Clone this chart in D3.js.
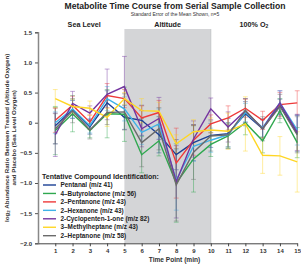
<!DOCTYPE html>
<html lang="en">
<head>
    <meta charset="UTF-8">
    <title>Metabolite Time Course</title>
    <script src="https://d3js.org/d3.v7.min.js"></script>
    <style>
        body { margin: 0; background: #fff; }
        svg { display: block; font-family: "Liberation Sans", Arial, sans-serif; }
    </style>
</head>
<body>
    <div id="chart"></div>
    <script>
        const width = 301, height = 264;

        // time points (min)
        const timePoints = [1, 2, 3, 4, 5, 6, 7, 8, 9, 10, 11, 12, 13, 14, 15];
        const yTicks = [1.5, 1.0, 0.5, 0, -0.5, -1.0, -1.5, -2.0];

        const compoundNames = [
            "Pentanal (m/z 41)",
            "4\u2013Butyrolactone (m/z 56)",
            "2\u2013Pentanone (m/z 43)",
            "2\u2013Hexanone (m/z 43)",
            "2-Cyclopenten-1-one (m/z 82)",
            "3\u2013Methylheptane (m/z 43)",
            "2\u2013Heptanone (m/z 58)"
        ];
        const compoundColors = ["#1b3f94", "#2fa84f", "#ee3a3a", "#3fb2e8", "#7434a0", "#ffd624", "#6b6b6b"];

        // mean log2 ratios
        const pentanal       = [-0.05, 0.22, -0.07, 0.33, 0.09, 0.04, -0.20, -0.53, -0.33, -0.21, -0.18, 0.15, -0.10, 0.29, -0.18];
        const butyrolactone  = [-0.13, 0.15, -0.13, 0.15, 0.14, -0.53, -0.30, -1.00, -0.60, -0.36, -0.22, 0.00, -0.30, 0.20, -0.33];
        const pentanone      = [0.04, 0.29, 0.01, 0.45, 0.40, 0.08, 0.17, -0.67, -0.29, -0.02, 0.08, 0.24, 0.04, 0.30, 0.33];
        const hexanone       = [0.00, 0.23, -0.05, 0.40, 0.23, -0.16, -0.02, -0.95, -0.39, -0.29, -0.20, 0.17, -0.08, 0.33, -0.12];
        const cyclopentenone = [-0.20, 0.32, 0.16, 0.47, 0.60, -0.10, 0.07, -0.98, -0.27, 0.23, -0.07, 0.20, -0.10, 0.33, -0.16];
        const methylheptane  = [0.40, 0.27, 0.24, 0.09, 0.40, 0.20, 0.19, -0.35, -0.15, -0.12, -0.14, -0.02, -0.54, -0.55, -0.65];
        const heptanone      = [-0.10, 0.20, -0.12, 0.17, 0.18, -0.33, -0.10, -1.03, -0.49, -0.22, -0.20, 0.20, -0.10, 0.27, -0.20];

        // standard error of the mean
        const pentanalSem       = [0.30, 0.15, 0.12, 0.20, 0.20, 0.25, 0.30, 0.25, 0.30, 0.20, 0.25, 0.20, 0.15, 0.10, 0.30];
        const butyrolactoneSem  = [0.40, 0.30, 0.12, 0.40, 0.45, 0.30, 0.25, 0.65, 0.55, 0.20, 0.20, 0.20, 0.20, 0.20, 0.25];
        const pentanoneSem      = [0.20, 0.15, 0.12, 0.20, 0.15, 0.20, 0.20, 0.58, 0.25, 0.15, 0.20, 0.15, 0.15, 0.20, 0.20];
        const hexanoneSem       = [0.18, 0.15, 0.12, 0.20, 0.20, 0.20, 0.25, 0.50, 0.25, 0.20, 0.20, 0.15, 0.15, 0.20, 0.25];
        const cyclopentenoneSem = [0.36, 0.20, 0.12, 0.42, 0.50, 0.30, 0.35, 0.60, 0.30, 0.18, 0.25, 0.20, 0.15, 0.20, 0.30];
        const methylheptaneSem  = [0.15, 0.12, 0.12, 0.15, 0.10, 0.20, 0.15, 0.15, 0.20, 0.20, 0.30, 0.45, 0.30, 0.32, 0.50];
        const heptanoneSem      = [0.25, 0.20, 0.15, 0.20, 0.30, 0.40, 0.35, 0.60, 0.45, 0.25, 0.20, 0.20, 0.20, 0.20, 0.30];

        const phases = [
            { name: "Sea Level", from: 0, to: 5 },
            { name: "Altitude", from: 5, to: 10 },
            { name: "100% O", sub: "2", from: 10, to: 15 }
        ];

        const allMeans = [pentanal, butyrolactone, pentanone, hexanone, cyclopentenone, methylheptane, heptanone];
        const allSems = [pentanalSem, butyrolactoneSem, pentanoneSem, hexanoneSem, cyclopentenoneSem, methylheptaneSem, heptanoneSem];
        const series = compoundNames.map((name, i) => ({
            name, color: compoundColors[i],
            points: timePoints.map((t, j) => ({ t, v: allMeans[i][j], e: allSems[i][j] }))
        }));

        const margin = { left: 38, top: 29 };
        const x = d3.scaleLinear().domain([0, 15]).range([margin.left, 297.2]);
        const y = d3.scaleLinear().domain([-2, 1.5]).range([243.3, 32.3]);

        const svg = d3.select("#chart").append("svg")
            .attr("width", width).attr("height", height);

        // titles
        svg.append("text").attr("x", 175).attr("y", 8.5)
            .attr("text-anchor", "middle").attr("font-size", 8.6).attr("font-weight", "bold")
            .attr("fill", "#222").text("Metabolite Time Course from Serial Sample Collection");
        svg.append("text").attr("x", 175).attr("y", 15.5)
            .attr("text-anchor", "middle").attr("font-size", 5).attr("fill", "#333")
            .text("Standard Error of the Mean Shown, n=5");

        // altitude shading
        svg.append("rect")
            .attr("x", x(5)).attr("y", margin.top)
            .attr("width", x(10) - x(5)).attr("height", y(-2) - margin.top)
            .attr("fill", "#d4d5d7");
        svg.append("line")
            .attr("x1", x(10)).attr("x2", x(10)).attr("y1", margin.top).attr("y2", y(-2))
            .attr("stroke", "#bfc0c2").attr("stroke-width", 0.8);

        // phase labels
        phases.forEach(p => {
            const t = svg.append("text")
                .attr("x", x((p.from + p.to) / 2) + (p.from === 0 ? 3 : 0)).attr("y", 26.5)
                .attr("text-anchor", "middle").attr("font-size", 7.2).attr("font-weight", "bold")
                .attr("fill", "#222").text(p.name);
            if (p.sub) t.append("tspan").attr("font-size", 5).attr("dy", 1.5).text(p.sub);
        });

        // y axis
        const yAxis = svg.append("g").attr("transform", `translate(${margin.left},0)`)
            .call(d3.axisLeft(y).tickValues(yTicks).tickSize(3).tickPadding(3)
                .tickFormat(d => d === 0 ? "0" : d3.format(".1f")(d).replace("-", "\u2212")));
        yAxis.select(".domain").attr("stroke", "#888").attr("stroke-width", 1.5);
        yAxis.selectAll(".tick line").attr("stroke", "#555");
        yAxis.selectAll(".tick text").attr("font-size", 6).attr("font-weight", "bold")
            .attr("fill", "#333").attr("font-family", "Liberation Sans, Arial, sans-serif");

        // x axis
        const xAxis = svg.append("g").attr("transform", `translate(0,${y(-2)})`)
            .call(d3.axisBottom(x).tickValues(timePoints).tickSize(3).tickPadding(2).tickSizeOuter(0));
        xAxis.select(".domain").attr("stroke", "#444").attr("stroke-width", 1);
        xAxis.selectAll(".tick line").attr("stroke", "#444");
        xAxis.selectAll(".tick text").attr("font-size", 6).attr("font-weight", "bold")
            .attr("fill", "#333").attr("font-family", "Liberation Sans, Arial, sans-serif");

        svg.append("text").attr("x", 174.5).attr("y", 261.5)
            .attr("text-anchor", "middle").attr("font-size", 6.6).attr("font-weight", "bold")
            .attr("fill", "#333").text("Time Point (min)");

        // y axis title (two lines)
        const yMid = (y(1.5) + y(-2)) / 2;
        const yTitle = svg.append("text")
            .attr("transform", `translate(8.5,${yMid}) rotate(-90)`)
            .attr("text-anchor", "middle").attr("font-size", 6.2).attr("font-weight", "bold")
            .attr("fill", "#333");
        yTitle.append("tspan").text("log");
        yTitle.append("tspan").attr("font-size", 4.4).attr("dy", 1.5).text("2");
        yTitle.append("tspan").attr("dy", -1.5).text(" Abundance Ratio Between Treated (Altitude Oxygen)");
        svg.append("text")
            .attr("transform", `translate(15.5,${yMid}) rotate(-90)`)
            .attr("text-anchor", "middle").attr("font-size", 6.2).attr("font-weight", "bold")
            .attr("fill", "#333").text("and Placebo (Sea Level Oxygen)");

        // error bars
        const capW = 2.4;
        series.forEach(s => {
            const g = svg.append("g").attr("stroke", s.color).attr("stroke-opacity", 0.55).attr("stroke-width", 0.8);
            s.points.forEach(p => {
                g.append("line").attr("x1", x(p.t)).attr("x2", x(p.t))
                    .attr("y1", y(p.v - p.e)).attr("y2", y(p.v + p.e));
                [p.v - p.e, p.v + p.e].forEach(c => {
                    g.append("line").attr("x1", x(p.t) - capW).attr("x2", x(p.t) + capW)
                        .attr("y1", y(c)).attr("y2", y(c));
                });
            });
        });

        // mean lines
        const line = d3.line().x(d => x(d.t)).y(d => y(d.v));
        series.forEach(s => {
            svg.append("path").datum(s.points)
                .attr("d", line).attr("fill", "none")
                .attr("stroke", s.color).attr("stroke-width", 1.4);
        });

        // legend
        const legend = svg.append("g").attr("transform", "translate(42,0)");
        legend.append("text").attr("x", 0).attr("y", 178.5)
            .attr("font-size", 7).attr("font-weight", "bold").attr("fill", "#222")
            .text("Tentative Compound Identification:");
        series.forEach((s, i) => {
            const yy = 185 + i * 8.45;
            legend.append("line").attr("x1", 1).attr("x2", 14).attr("y1", yy).attr("y2", yy)
                .attr("stroke", s.color).attr("stroke-width", 1.4);
            legend.append("text").attr("x", 18.5).attr("y", yy + 2.2)
                .attr("font-size", 6.4).attr("font-weight", "bold").attr("fill", "#222")
                .text(s.name);
        });
    </script>
</body>
</html>
